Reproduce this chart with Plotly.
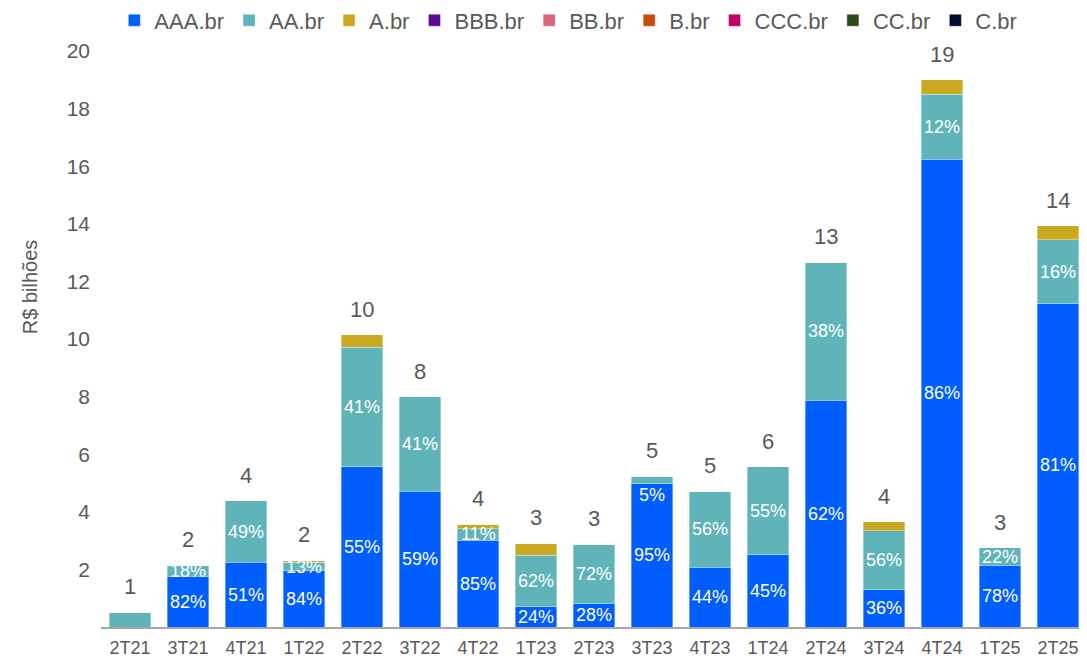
import plotly.graph_objects as go

categories = ["2T21", "3T21", "4T21", "1T22", "2T22", "3T22", "4T22", "1T23", "2T23",
              "3T23", "4T23", "1T24", "2T24", "3T24", "4T24", "1T25", "2T25"]

aaa = [0.00, 1.77, 2.24, 1.95, 5.56, 4.72, 3.02, 0.70, 0.81, 4.98, 2.07, 2.51, 7.88, 1.30, 16.25, 2.14, 11.22]
aa  = [0.52, 0.38, 2.14, 0.30, 4.16, 3.28, 0.39, 1.80, 2.07, 0.25, 2.65, 3.05, 4.78, 2.04, 2.25, 0.61, 2.22]
a   = [0.00, 0.00, 0.00, 0.07, 0.42, 0.00, 0.16, 0.41, 0.00, 0.00, 0.00, 0.00, 0.00, 0.31, 0.50, 0.00, 0.49]
zeros = [0.0] * len(categories)
bbb = zeros
bb = zeros
b = zeros
ccc = zeros
cc = zeros
c = zeros

series_names = ["AAA.br", "AA.br", "A.br", "BBB.br", "BB.br", "B.br", "CCC.br", "CC.br", "C.br"]
series_values = [aaa, aa, a, bbb, bb, b, ccc, cc, c]
series_colors = ["#005EFF", "#5FB4BA", "#C9A922", "#5B0A91", "#D9657A",
                 "#C64B0C", "#C0006A", "#2D4A16", "#000A2A"]

GREY = "#595959"
FONT = "Liberation Sans, Arial, sans-serif"

fig = go.Figure()
for name, vals, col in zip(series_names, series_values, series_colors):
    fig.add_trace(go.Bar(
        x=categories, y=vals, name=name,
        marker=dict(color=col, line=dict(color="rgba(255,255,255,0.6)", width=0.6)),
        hoverinfo="x+y+name",
    ))

totals = [sum(v[i] for v in series_values) for i in range(len(categories))]

def rnd(x):
    return int(x + 0.5)

annotations = []
# totals above bars
for i, cat in enumerate(categories):
    annotations.append(dict(x=cat, y=totals[i], text=str(rnd(totals[i])),
                            showarrow=False, yanchor="bottom", yshift=11,
                            font=dict(size=22, color=GREY, family=FONT)))

# percentage labels for AAA and AA segments
label_yshift = {("AA.br", "3T23"): -15}
for name, vals, base_fn in [("AAA.br", aaa, lambda i: 0.0), ("AA.br", aa, lambda i: aaa[i])]:
    for i, cat in enumerate(categories):
        share = vals[i] / totals[i] * 100 if totals[i] else 0
        if vals[i] <= 0 or rnd(share) >= 100:
            continue
        ymid = base_fn(i) + vals[i] / 2
        annotations.append(dict(x=cat, y=ymid, text=f"{rnd(share)}%", showarrow=False,
                                yanchor="middle",
                                yshift=label_yshift.get((name, cat), 0),
                                font=dict(size=18, color="white", family=FONT)))

# y-axis title
annotations.append(dict(xref="paper", yref="paper", x=-0.072, y=0.59, text="R$ bilhões",
                        textangle=-90, showarrow=False, xanchor="center", yanchor="middle",
                        font=dict(size=20, color=GREY, family=FONT)))

fig.update_layout(
    barmode="stack",
    bargap=0.29,
    width=1079, height=653,
    margin=dict(l=93, r=0, t=43, b=34, autoexpand=False),
    paper_bgcolor="white", plot_bgcolor="white",
    font=dict(family=FONT, color=GREY, size=18),
    showlegend=True,
    legend=dict(orientation="h", x=0.474, xanchor="center", y=1.053, yanchor="middle",
                traceorder="normal",
                font=dict(size=22, color=GREY, family=FONT), itemwidth=30,
                tracegroupgap=0, bgcolor="rgba(0,0,0,0)"),
    annotations=annotations,
)
fig.update_xaxes(showline=True, linecolor="#A6A6A6", linewidth=1.5, ticks="",
                 tickfont=dict(size=18, color=GREY, family=FONT), showgrid=False,
                 ticklabelstandoff=4)
fig.update_yaxes(range=[0, 20], tickvals=[2, 4, 6, 8, 10, 12, 14, 16, 18, 20],
                 showgrid=False, zeroline=False, showline=False, ticks="",
                 tickfont=dict(size=21, color=GREY, family=FONT), ticklabelstandoff=10)

fig.write_html("out.html")
